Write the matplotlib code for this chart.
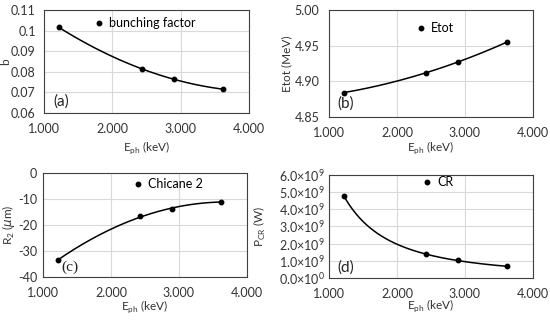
import numpy as np
import matplotlib
matplotlib.use('Agg')
from matplotlib import pyplot as plt
from matplotlib.ticker import FixedLocator, FuncFormatter

plt.rcParams['font.family'] = ['Lato', 'DejaVu Sans']
plt.rcParams['mathtext.fontset'] = 'custom'
plt.rcParams['mathtext.rm'] = 'Lato'

# photon energy (keV)
e_ph = [1.22, 2.43, 2.90, 3.62]

# panel values
bunching = [0.1015, 0.0813, 0.0765, 0.0715]
etot = [4.884, 4.912, 4.927, 4.955]
r2 = [-33.5, -16.5, -14.0, -11.0]
p_cr = [4.75e9, 1.40e9, 1.02e9, 0.67e9]

x_ticks = [1.0, 2.0, 3.0, 4.0]


# trendline through the points: 2nd order poly or power law
def trend(x, y, kind, n=200):
    x = np.asarray(x, float)
    y = np.asarray(y, float)
    xs = np.linspace(x.min(), x.max(), n)
    if kind == 'power':
        b, a = np.polyfit(np.log(x), np.log(y), 1)
        return xs, np.exp(a) * xs ** b
    c = np.polyfit(x, y, 2)
    return xs, np.polyval(c, xs)


def sci_fmt(v, pos):
    if v == 0:
        return r'0.0$\times$10$^{0}$'
    return r'%.1f$\times$10$^{9}$' % (v / 1e9)


def b_fmt(v, pos):
    if abs(v - 0.1) < 1e-9:
        return '0.1'
    return '%.2f' % v


# rect, data, ylabel, legend, tag, yticks, formatter, fit,
# ylabel x, xlabel y, ytick pad, tag pos, legend pos, tag font
panels = [
    ([0.080, 0.648, 0.373, 0.321], bunching, 'b', 'bunching factor', '(a)',
     [0.06, 0.07, 0.08, 0.09, 0.1, 0.11], b_fmt, 'poly', -0.16, -0.26, 6,
     (0.045, 0.04), (0.27, 0.874), 'Lato'),
    ([0.598, 0.636, 0.371, 0.333], etot, 'Etot (MeV)', 'Etot', '(b)',
     [4.85, 4.90, 4.95, 5.00], lambda v, p: '%.2f' % v, 'poly', -0.18, -0.21, 7,
     (0.04, 0.06), (0.45, 0.83), 'Lato'),
    ([0.078, 0.137, 0.371, 0.324], r2, r'R$_2$ ($\mu$m)', 'Chicane 2', '(c)',
     [-40, -30, -20, -10, 0], lambda v, p: '%d' % v, 'poly', -0.127, -0.20, 4,
     (0.09, 0.03), (0.465, 0.894), 'Liberation Serif'),
    ([0.598, 0.134, 0.371, 0.321], p_cr, r'P$_{\rm CR}$ (W)', 'CR', '(d)',
     [0, 1e9, 2e9, 3e9, 4e9, 5e9, 6e9], sci_fmt, 'power', -0.30, -0.19, 3,
     (0.04, 0.03), (0.48, 0.93), 'Lato'),
]

fig = plt.figure(figsize=(5.5, 3.21), dpi=100)

for rect, vals, ylab, leg, tag, yt, fmt, fit, ylx, xly, ypad, tpos, lpos, tfont in panels:
    ax = fig.add_axes(rect)
    sx, sy = trend(e_ph, vals, fit)
    ax.plot(sx, sy, color='black', lw=1.1)
    ax.plot(e_ph, vals, 'o', color='black', ms=3.2, label=leg)
    ax.set_xlim(1.0, 4.0)
    ax.set_ylim(yt[0], yt[-1])
    ax.xaxis.set_major_locator(FixedLocator(x_ticks))
    ax.xaxis.set_major_formatter(FuncFormatter(lambda v, p: '%.3f' % v))
    ax.yaxis.set_major_locator(FixedLocator(yt))
    ax.yaxis.set_major_formatter(FuncFormatter(fmt))
    ax.grid(True, color='#d9d9d9', lw=0.8)
    ax.set_axisbelow(True)
    ax.tick_params(axis='x', length=0, labelsize=9, colors='#333333', pad=7)
    ax.tick_params(axis='y', length=0, labelsize=9, colors='#333333', pad=ypad)
    for s in ax.spines.values():
        s.set_color('#404040')
        s.set_linewidth(0.8)
    ax.set_xlabel(r'E$_{\rm ph}$ (keV)', fontsize=8.5, color='#333333')
    ax.set_ylabel(ylab, fontsize=8.5, color='#333333')
    ax.xaxis.set_label_coords(0.5, xly)
    ax.yaxis.set_label_coords(ylx, 0.5)
    ax.legend(loc='center left', bbox_to_anchor=(lpos[0] - 0.018, lpos[1]),
              frameon=False, fontsize=9, handlelength=0.6, handletextpad=0.5,
              borderpad=0, borderaxespad=0)
    ax.text(tpos[0], tpos[1], tag, transform=ax.transAxes, fontsize=11,
            color='#222222', va='bottom', family=[tfont, 'DejaVu Sans'])

fig.savefig('out.png', dpi=100)
